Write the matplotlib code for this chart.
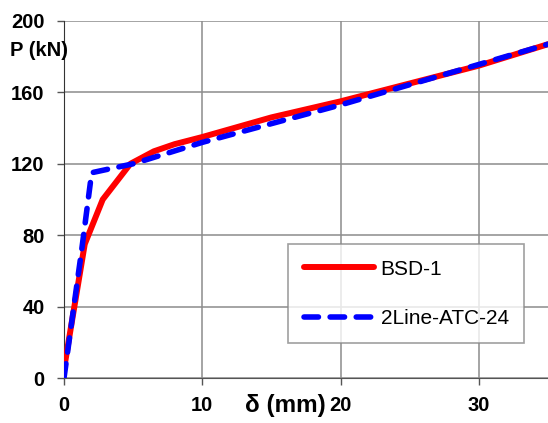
import matplotlib
matplotlib.use("Agg")
import matplotlib.pyplot as plt

plt.rcParams['font.family'] = ['Liberation Sans', 'DejaVu Sans']

bsd_x = [0.0, 1.5, 2.8, 4.8, 6.5, 8.0, 10.0, 15.0, 20.0, 25.0, 30.0, 35.0]
bsd_p = [5.0, 75.0, 100.0, 120.0, 127.0, 131.0, 135.0, 146.0, 155.0, 165.0, 175.0, 187.0]
atc_x = [0.0, 1.3, 2.0, 5.0, 10.0, 20.0, 35.0]
atc_p = [0.0, 73.0, 115.0, 120.0, 132.0, 153.0, 187.0]

xticks = [0, 10, 20, 30]
yticks = [0, 40, 80, 120, 160, 200]

fig = plt.figure(figsize=(5.48, 4.23), dpi=100)
ax = fig.add_axes([64/548, 1-378/423, 1-64/548, (378-21)/423])

ax.plot(bsd_x, bsd_p, color='#ff0000', lw=4.3, solid_capstyle='round', label='BSD-1', zorder=3)
ax.plot(atc_x, atc_p, color='#0000ff', lw=4.0, linestyle=(0, (2.6, 2.1)), dash_capstyle='round', label='2Line-ATC-24', zorder=4)

ax.set_xlim(0, 35)
ax.set_ylim(0, 200)
ax.set_xticks(xticks)
ax.set_yticks(yticks)
ax.set_xticklabels([str(v) for v in xticks], fontsize=14.5, fontweight='bold')
ax.set_yticklabels([str(v) for v in yticks], fontsize=14.5, fontweight='bold')
ax.tick_params(axis='both', direction='out', length=5, width=1, color='#555555')
ax.tick_params(axis='x', pad=8)
ax.tick_params(axis='y', pad=9)
ax.grid(True, color='#8c8c8c', lw=1.1)
ax.set_axisbelow(True)
for s in ['top', 'right']:
    ax.spines[s].set_visible(False)
ax.spines['left'].set_color('#333333')
ax.spines['bottom'].set_color('#555555')

fig.text(39/548, 1-51/423, 'P (kN)', fontsize=14.5, fontweight='bold', ha='center', va='center')
fig.text(285/548, 1-394/423, 'δ (mm)', fontsize=17.5, fontweight='bold', ha='center', va='top')

leg = ax.legend(loc='upper left', bbox_to_anchor=((288-64)/484, (378-244)/357), fontsize=15,
                frameon=True, fancybox=False, edgecolor='#888888', handlelength=3.4,
                labelspacing=1.45, borderpad=0.75, handletextpad=0.3, borderaxespad=0)
leg.get_frame().set_linewidth(1.2)

fig.savefig('out.png', dpi=100)
